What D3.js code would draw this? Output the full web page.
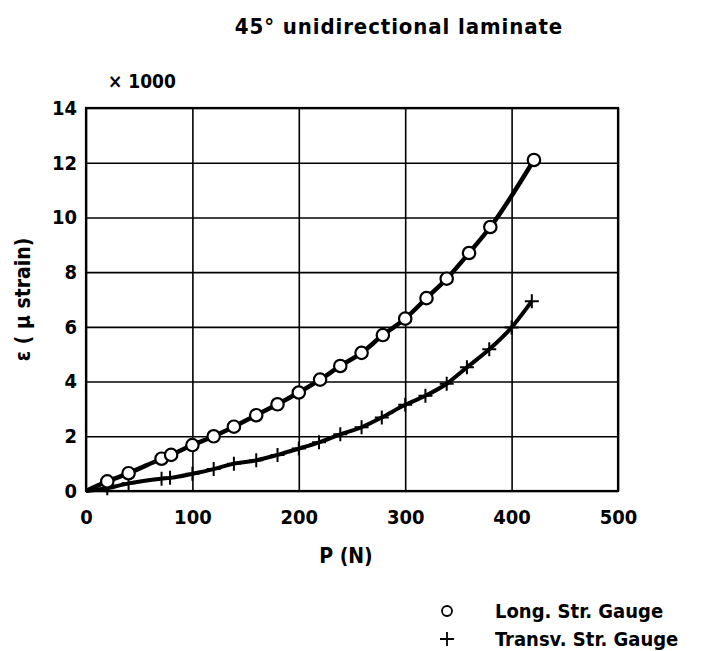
<!DOCTYPE html>
<html>
<head>
<meta charset="utf-8">
<script src="https://cdn.jsdelivr.net/npm/d3@7"></script>
<style>
  html, body { margin: 0; padding: 0; background: #fff; }
  svg { display: block; }
  text { font-family: "DejaVu Sans Condensed", "DejaVu Sans", sans-serif; font-weight: bold; fill: #000; }
</style>
</head>
<body>
<div class="container"></div>
<script>
'use strict';

// Longitudinal strain gauge (circles), P in N, strain x 1000
const longLoad = [20, 40, 71, 80, 100, 120, 139, 160, 180, 200, 220, 239, 259, 279, 300, 320, 339, 360, 380, 421];
const longStrain = [0.35, 0.65, 1.18, 1.32, 1.68, 2.0, 2.35, 2.77, 3.17, 3.6, 4.07, 4.57, 5.05, 5.7, 6.3, 7.05, 7.76, 8.7, 9.65, 12.1];

// Transverse strain gauge (crosses)
const transLoad = [20, 40, 71, 79, 100, 120, 139, 160, 180, 200, 219, 239, 259, 278, 300, 319, 339, 358, 379, 400, 419];
const transStrain = [0.1, 0.28, 0.45, 0.48, 0.63, 0.8, 1.0, 1.12, 1.32, 1.55, 1.78, 2.07, 2.33, 2.69, 3.15, 3.48, 3.92, 4.52, 5.18, 5.98, 6.94];

const xTicks = [0, 100, 200, 300, 400, 500];
const yTicks = [0, 2, 4, 6, 8, 10, 12, 14];

const legendLabels = ['Long. Str. Gauge', 'Transv. Str. Gauge'];

(function () {
  const width = 702, height = 651;
  const plot = { left: 86, right: 618, top: 108, bottom: 491 };

  const svg = d3.select('.container').append('svg')
    .attr('width', width)
    .attr('height', height);

  const x = d3.scaleLinear().domain([0, 500]).range([plot.left, plot.right]);
  const y = d3.scaleLinear().domain([0, 14]).range([plot.bottom, plot.top]);

  // Grid + tick labels via the axes
  const xAxis = svg.append('g')
    .attr('transform', `translate(0,${plot.bottom})`)
    .call(d3.axisBottom(x).tickValues(xTicks).tickSize(-(plot.bottom - plot.top)).tickSizeOuter(0).tickPadding(19));
  const yAxis = svg.append('g')
    .attr('transform', `translate(${plot.left},0)`)
    .call(d3.axisLeft(y).tickValues(yTicks).tickSize(-(plot.right - plot.left)).tickSizeOuter(0).tickPadding(9));

  [xAxis, yAxis].forEach(g => {
    g.select('.domain').remove();
    g.selectAll('.tick line').attr('stroke', '#000').attr('stroke-width', 1.6);
    g.selectAll('.tick text').style('font-size', '20px');
  });

  // frame
  svg.append('rect')
    .attr('x', plot.left).attr('y', plot.top)
    .attr('width', plot.right - plot.left).attr('height', plot.bottom - plot.top)
    .attr('fill', 'none').attr('stroke', '#000').attr('stroke-width', 2.2);

  const longPts = longLoad.map((p, i) => [p, longStrain[i]]);
  const transPts = transLoad.map((p, i) => [p, transStrain[i]]);

  const line = d3.line()
    .x(d => x(d[0]))
    .y(d => y(d[1]))
    .curve(d3.curveMonotoneX);

  // both curves start at the origin
  svg.append('path')
    .datum([[0, 0]].concat(longPts))
    .attr('d', line)
    .attr('fill', 'none').attr('stroke', '#000').attr('stroke-width', 4.5);

  svg.append('path')
    .datum([[0, 0]].concat(transPts))
    .attr('d', line)
    .attr('fill', 'none').attr('stroke', '#000').attr('stroke-width', 4);

  const crossPath = 'M-7,0H7M0,-7V7';

  svg.selectAll('path.cross')
    .data(transPts)
    .enter()
    .append('path')
    .attr('class', 'cross')
    .attr('transform', d => `translate(${x(d[0])},${y(d[1])})`)
    .attr('d', crossPath)
    .attr('stroke', '#000').attr('stroke-width', 2);

  svg.selectAll('circle.long')
    .data(longPts)
    .enter()
    .append('circle')
    .attr('class', 'long')
    .attr('cx', d => x(d[0]))
    .attr('cy', d => y(d[1]))
    .attr('r', 6.2)
    .attr('fill', '#fff').attr('stroke', '#000').attr('stroke-width', 2.2);

  // Titles
  svg.append('text')
    .attr('x', 399).attr('y', 34)
    .attr('text-anchor', 'middle')
    .style('font-size', '22px')
    .style('letter-spacing', '0.9px')
    .text('45° unidirectional laminate');

  svg.append('text')
    .attr('x', 108).attr('y', 88)
    .style('font-size', '19px')
    .text('× 1000');

  svg.append('text')
    .attr('x', 346).attr('y', 563)
    .attr('text-anchor', 'middle')
    .style('font-size', '21px')
    .text('P (N)');

  svg.append('text')
    .attr('transform', `translate(30,${(plot.top + plot.bottom) / 2}) rotate(-90)`)
    .attr('text-anchor', 'middle')
    .style('font-size', '21px')
    .text('ε ( μ strain)');

  // Legend
  const legend = svg.append('g');
  const rows = [611, 639];

  legend.append('circle')
    .attr('cx', 447).attr('cy', rows[0]).attr('r', 5)
    .attr('fill', 'none').attr('stroke', '#000').attr('stroke-width', 1.8);
  legend.append('path')
    .attr('transform', `translate(447,${rows[1]})`)
    .attr('d', crossPath)
    .attr('stroke', '#000').attr('stroke-width', 1.8);

  legend.selectAll('text')
    .data(legendLabels)
    .enter()
    .append('text')
    .attr('x', 495)
    .attr('y', (d, i) => rows[i] + 7)
    .style('font-size', '20px')
    .text(d => d);
})();
</script>
</body>
</html>
